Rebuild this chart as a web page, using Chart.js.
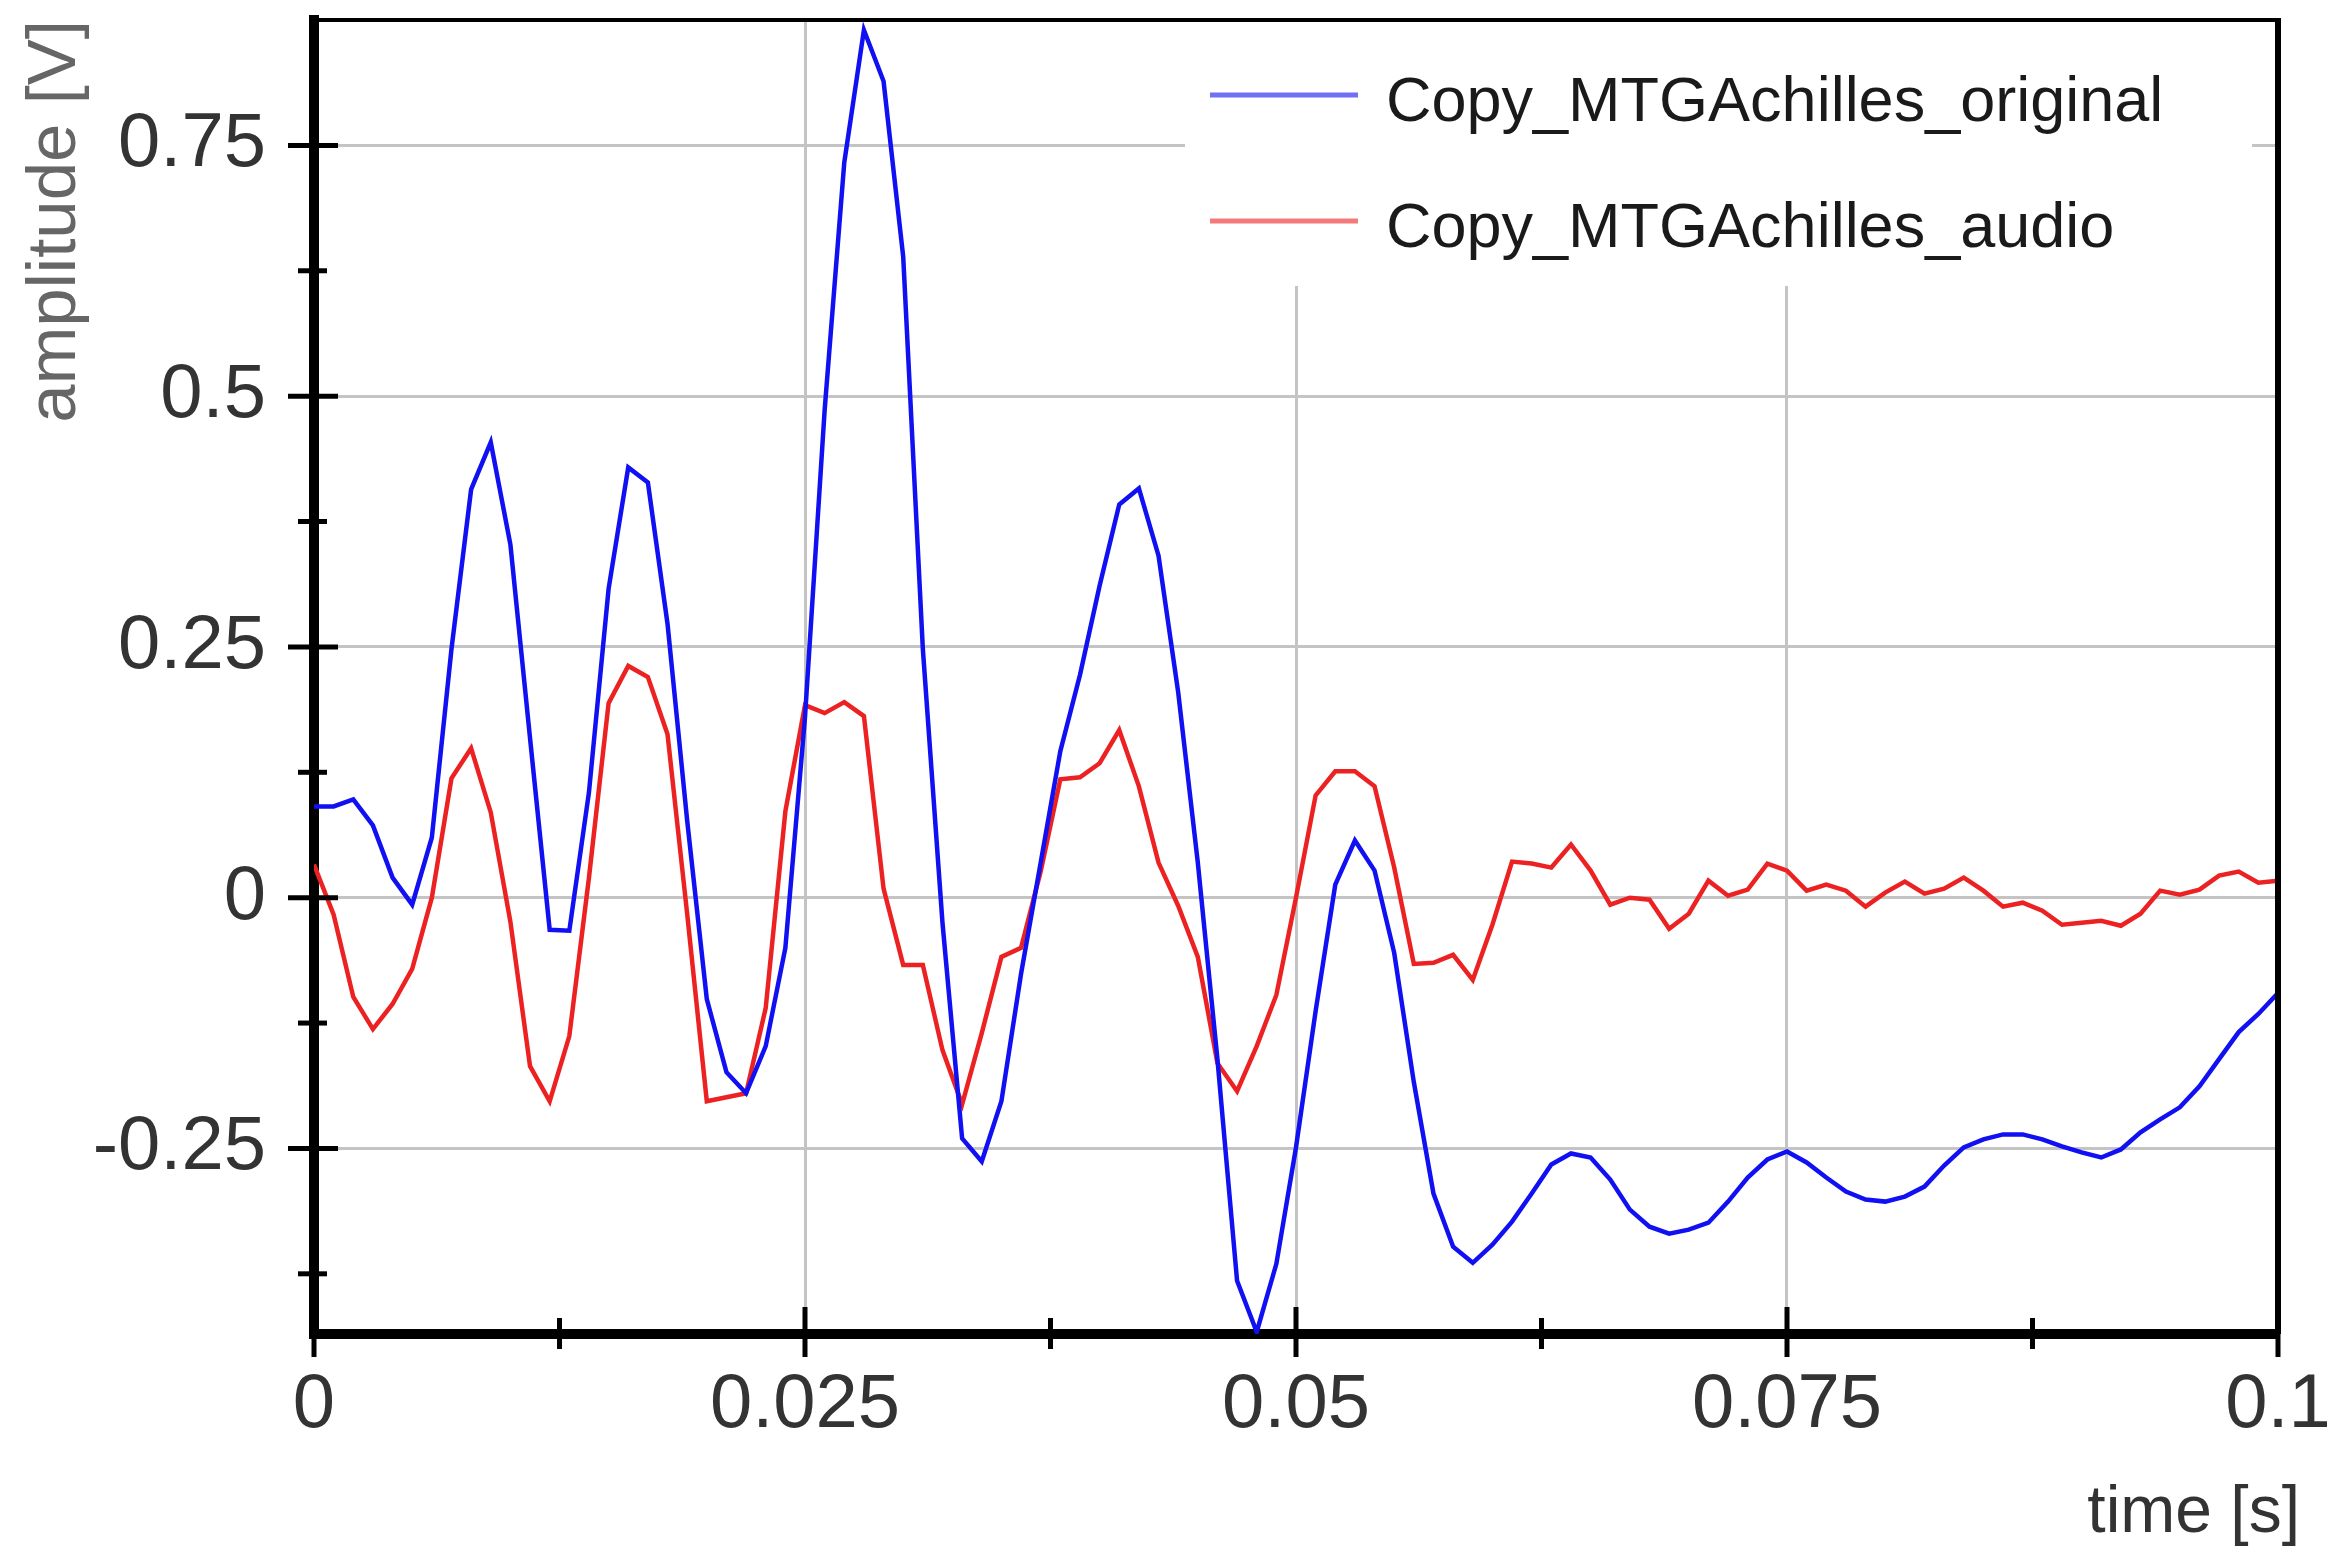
<!DOCTYPE html>
<html>
<head>
<meta charset="utf-8">
<script src="https://cdn.jsdelivr.net/npm/chart.js@4.4.1/dist/chart.umd.min.js"></script>
<style>
  html, body { margin: 0; padding: 0; background: #fff; }
  #wrap { width: 2327px; height: 1558px; }
</style>
</head>
<body>
<div id="wrap"><canvas id="chart" width="2327" height="1558"></canvas></div>
<script>
  // ── Data ─────────────────────────────────────────────────────
  const seriesNames = ['Copy_MTGAchilles_original', 'Copy_MTGAchilles_audio'];
  const seriesColors = ['#1010f2', '#ec2222'];

  // one sample per millisecond, 0 .. 0.1 s
  const originalV = [
    0.091, 0.091, 0.098, 0.072, 0.020, -0.007, 0.060, 0.248, 0.407, 0.454,
    0.352, 0.159, -0.032, -0.033, 0.105, 0.308, 0.429, 0.414, 0.273, 0.077,
    -0.101, -0.174, -0.195, -0.148, -0.050, 0.180, 0.486, 0.733, 0.865, 0.814,
    0.639, 0.248, -0.025, -0.240, -0.263, -0.203, -0.076, 0.035, 0.146, 0.222,
    0.311, 0.392, 0.408, 0.341, 0.205, 0.035, -0.161, -0.382, -0.433, -0.365,
    -0.249, -0.113, 0.013, 0.057, 0.027, -0.055, -0.184, -0.295, -0.348, -0.364,
    -0.346, -0.323, -0.295, -0.266, -0.255, -0.259, -0.281, -0.311, -0.328, -0.335,
    -0.331, -0.324, -0.303, -0.279, -0.261, -0.253, -0.264, -0.279, -0.293, -0.301,
    -0.303, -0.298, -0.288, -0.267, -0.249, -0.241, -0.236, -0.236, -0.241, -0.248,
    -0.254, -0.259, -0.251, -0.234, -0.221, -0.209, -0.188, -0.161, -0.134, -0.116,
    -0.095
  ];
  const audioV = [
    0.033, -0.017, -0.099, -0.131, -0.106, -0.071, 0.000, 0.119, 0.149, 0.085,
    -0.024, -0.168, -0.203, -0.138, 0.020, 0.194, 0.231, 0.220, 0.163, -0.016,
    -0.203, -0.199, -0.195, -0.110, 0.086, 0.192, 0.184, 0.195, 0.181, 0.009,
    -0.067, -0.067, -0.152, -0.206, -0.135, -0.059, -0.050, 0.026, 0.118, 0.120,
    0.134, 0.167, 0.111, 0.035, -0.008, -0.059, -0.165, -0.193, -0.148, -0.097,
    0.000, 0.102, 0.126, 0.126, 0.111, 0.030, -0.066, -0.065, -0.057, -0.082,
    -0.027, 0.036, 0.034, 0.030, 0.053, 0.027, -0.007, 0.000, -0.002, -0.031,
    -0.016, 0.017, 0.002, 0.008, 0.034, 0.027, 0.007, 0.013, 0.007, -0.009,
    0.005, 0.016, 0.004, 0.009, 0.020, 0.007, -0.009, -0.005, -0.013, -0.027,
    -0.025, -0.023, -0.028, -0.016, 0.007, 0.003, 0.008, 0.022, 0.026, 0.015,
    0.017
  ];
  const sampleStep = 0.001;
  const times = originalV.map((_, i) => +(i * sampleStep).toFixed(3));

  const xTicks = [0, 0.025, 0.05, 0.075, 0.1];
  const xMinorTicks = [0.0125, 0.0375, 0.0625, 0.0875];
  const yTicks = [-0.25, 0, 0.25, 0.5, 0.75];
  const yMinorTicks = [-0.375, -0.125, 0.125, 0.375, 0.625];

  // ── Plugins ──────────────────────────────────────────────────
  const FONT = "'Liberation Sans', Arial, sans-serif";

  // white legend box inside the plot, over the grid
  const legendBox = {
    id: 'legendBox',
    beforeDatasetsDraw(chart) {
      const ctx = chart.ctx;
      ctx.save();
      ctx.fillStyle = '#fff';
      ctx.fillRect(1185, 22, 1067, 264);
      chart.data.datasets.forEach((ds, i) => {
        const y = 95 + i * 126;
        ctx.globalAlpha = 0.6;
        ctx.strokeStyle = ds.borderColor;
        ctx.lineWidth = 5;
        ctx.beginPath(); ctx.moveTo(1210, y); ctx.lineTo(1358, y); ctx.stroke();
        ctx.globalAlpha = 1;
        ctx.fillStyle = '#1a1a1a';
        ctx.font = `63px ${FONT}`;
        ctx.textBaseline = 'alphabetic';
        ctx.fillText(ds.label, 1386, y + 26);
      });
      ctx.restore();
    }
  };

  // frame on top/right and tick marks crossing the axes
  const axisTicks = {
    id: 'axisTicks',
    afterLayout(chart) {
      // axis title "time [s]" sits a little past the plot's right edge
      const s = chart.scales.x;
      if (s._titleShifted) return;
      const orig = s.drawTitle;
      s.drawTitle = function () {
        const r = this.right;
        this.right = r + 22;
        orig.call(this);
        this.right = r;
      };
      s._titleShifted = true;
    },
    afterDatasetsDraw(chart) {
      const { ctx, chartArea: a, scales: { x, y } } = chart;
      ctx.save();
      ctx.strokeStyle = '#000';
      ctx.lineCap = 'butt';
      ctx.lineWidth = 4;
      ctx.beginPath(); ctx.moveTo(a.left, a.top); ctx.lineTo(a.right + 3, a.top); ctx.stroke();
      ctx.lineWidth = 6;
      ctx.beginPath(); ctx.moveTo(a.right, a.top); ctx.lineTo(a.right, a.bottom); ctx.stroke();

      const tick = (vals, len1, len2, w, horiz) => {
        ctx.lineWidth = w;
        vals.forEach(v => {
          ctx.beginPath();
          if (horiz) {
            const py = y.getPixelForValue(v);
            ctx.moveTo(a.left - len1, py); ctx.lineTo(a.left + len2, py);
          } else {
            const px = x.getPixelForValue(v);
            ctx.moveTo(px, a.bottom + len1); ctx.lineTo(px, a.bottom - len2);
          }
          ctx.stroke();
        });
      };
      tick(yTicks, 26, 24, 5, true);
      tick(yMinorTicks, 16, 13, 5, true);
      tick(xTicks, 23, 27, 5, false);
      tick(xMinorTicks, 15, 16, 5, false);
      ctx.restore();
    }
  };

  // ── Chart ────────────────────────────────────────────────────
  Chart.defaults.font.family = FONT;

  const fmt = v => String(+Number(v).toFixed(4));

  new Chart(document.getElementById('chart'), {
    type: 'line',
    data: {
      labels: times,
      datasets: [
        { label: seriesNames[0], data: originalV, borderColor: seriesColors[0], borderWidth: 4.5, pointRadius: 0, tension: 0, fill: false },
        { label: seriesNames[1], data: audioV, borderColor: seriesColors[1], borderWidth: 4.5, pointRadius: 0, tension: 0, fill: false }
      ]
    },
    options: {
      responsive: false,
      animation: false,
      devicePixelRatio: 1,
      layout: { padding: { left: 0, top: 20, right: 49, bottom: 0 } },
      plugins: { legend: { display: false }, tooltip: { enabled: false } },
      scales: {
        x: {
          type: 'linear', min: 0, max: 0.1,
          afterBuildTicks: s => { s.ticks = xTicks.map(v => ({ value: v })); },
          afterFit: s => { s.height = 1558 - 1334; s.paddingLeft = 0; s.paddingRight = 0; },
          grid: { color: '#c4c4c4', lineWidth: 3, drawTicks: false },
          border: { color: '#000', width: 10 },
          ticks: { callback: fmt, color: '#333', padding: 34, maxRotation: 0, autoSkip: false,
                   font: { size: 76, lineHeight: 1 } },
          title: { display: true, text: 'time [s]', align: 'end', color: '#333',
                   font: { size: 66, lineHeight: 1 }, padding: { top: 0, bottom: 11 } }
        },
        y: {
          min: -0.435, max: 0.875,
          afterBuildTicks: s => { s.ticks = yTicks.map(v => ({ value: v })); },
          afterFit: s => { s.width = 314; s.paddingTop = 0; s.paddingBottom = 0; },
          grid: { color: '#c4c4c4', lineWidth: 3, drawTicks: false },
          border: { color: '#000', width: 10 },
          ticks: { callback: fmt, color: '#333', padding: 48, autoSkip: false,
                   font: { size: 76, lineHeight: 1 } },
          title: { display: true, text: 'amplitude [V]', align: 'end', color: '#666',
                   font: { size: 69, lineHeight: 1 }, padding: { top: 21, bottom: 0 } }
        }
      }
    },
    plugins: [legendBox, axisTicks]
  });
</script>
</body>
</html>
